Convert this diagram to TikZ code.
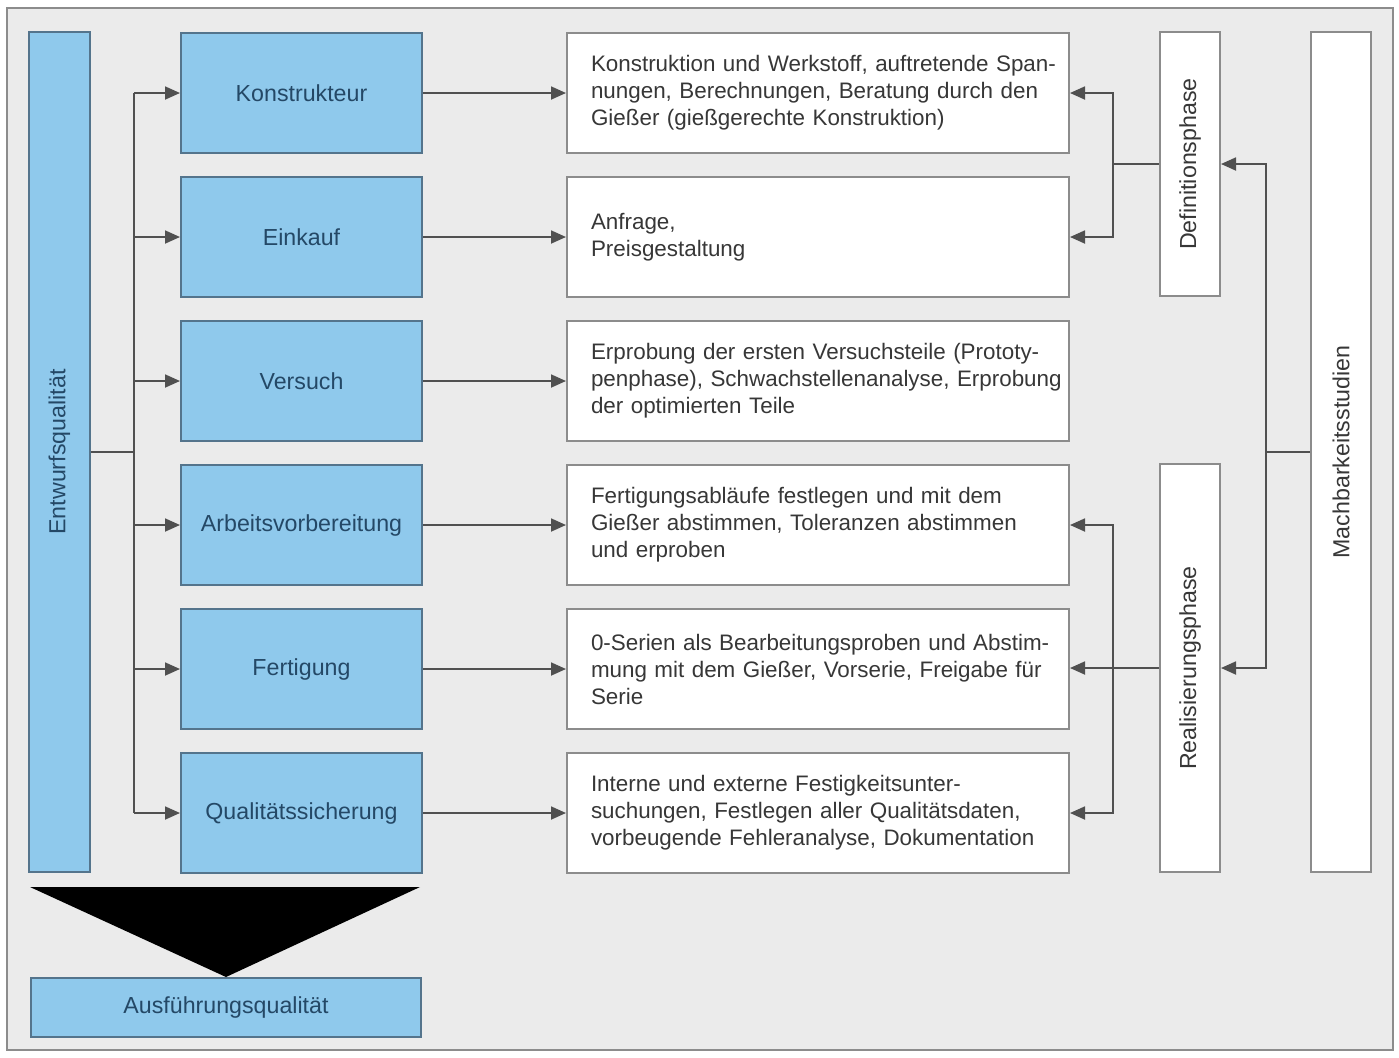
\documentclass[tikz,border=0pt]{standalone}
\usepackage{fontspec}
\setmainfont{Liberation Sans}
\usetikzlibrary{arrows.meta}
\definecolor{hellblau}{RGB}{143,201,236}
\definecolor{blaurand}{RGB}{84,116,140}
\definecolor{blautext}{RGB}{36,72,102}
\definecolor{grund}{RGB}{235,235,235}
\definecolor{linie}{RGB}{80,80,80}
\definecolor{rahmen}{RGB}{140,140,140}
\definecolor{schrift}{RGB}{55,55,55}
\newcommand{\zeile}[1]{\mbox{#1}}
\tikzset{
  every node/.style={font=\fontsize{11.6}{13.5}\selectfont},
  stelle/.style={draw=blaurand, line width=1pt, fill=hellblau, text=blautext,
    minimum width=120.5pt, minimum height=60pt, inner sep=0pt, anchor=north west},
  aufgabe/.style={draw=rahmen, line width=1pt, fill=white, text=schrift,
    font=\fontsize{11.2}{13.5}\selectfont,
    minimum width=251pt, minimum height=60pt, text width=227pt, inner xsep=12pt,
    inner ysep=0pt, align=left, anchor=north west},
  phase/.style={draw=rahmen, line width=1pt, fill=white, text=schrift,
    minimum height=30pt, inner sep=0pt, rotate=90},
  strich/.style={draw=linie, line width=0.9pt},
  pfeil/.style={strich, -{Triangle[length=7.5pt,width=6.5pt]}}
}
\begin{document}
\begin{tikzpicture}[x=0.5pt,y=-0.5pt]
\useasboundingbox (0,0) rectangle (1399,1057);
\fill[white] (0,0) rectangle (1399,1057);
\draw[fill=grund, draw=rahmen, line width=1pt] (7,8) rectangle (1393,1050);

% linke Spalte
\node[stelle, anchor=center, rotate=90, minimum width=420pt, minimum height=30.5pt]
  (ent) at (59.5,452) {Entwurfsqualität};
\foreach \txt [count=\i] in {Konstrukteur,Einkauf,Versuch,Arbeitsvorbereitung,Fertigung,Qualitätssicherung}
  \node[stelle] (s\i) at (180,{32+144*(\i-1)}) {\txt};

% Aufgaben
\node[aufgabe] (a1) at (566,32) {\zeile{Konstruktion und Werkstoff, auftretende Span-}\\
  \zeile{nungen, Berechnungen, Beratung durch den}\\\zeile{Gießer (gießgerechte Konstruktion)}};
\node[aufgabe] (a2) at (566,176) {Anfrage,\\Preisgestaltung};
\node[aufgabe] (a3) at (566,320) {\zeile{Erprobung der ersten Versuchsteile (Prototy-}\\
  \zeile{penphase), Schwachstellenanalyse, Erprobung}\\\zeile{der optimierten Teile}};
\node[aufgabe] (a4) at (566,464) {\zeile{Fertigungsabläufe festlegen und mit dem}\\
  \zeile{Gießer abstimmen, Toleranzen abstimmen}\\\zeile{und erproben}};
\node[aufgabe] (a5) at (566,608) {\zeile{0-Serien als Bearbeitungsproben und Abstim-}\\
  \zeile{mung mit dem Gießer, Vorserie, Freigabe für}\\\zeile{Serie}};
\node[aufgabe] (a6) at (566,752) {\zeile{Interne und externe Festigkeitsunter-}\\
  \zeile{suchungen, Festlegen aller Qualitätsdaten,}\\\zeile{vorbeugende Fehleranalyse, Dokumentation}};

% Phasen
\node[phase, minimum width=132pt] (def) at (1190,164) {Definitionsphase};
\node[phase, minimum width=204pt] (real) at (1190,668) {Realisierungsphase};
\node[phase, minimum width=420pt] (mach) at (1341,452) {Machbarkeitsstudien};

% Ausfuehrung
\node[stelle, minimum width=195pt, minimum height=29.5pt] (ausf) at (30,977) {Ausführungsqualität};
\fill[black] (30,887) -- (420,887) -- (ausf.north) -- cycle;

% Verbindungen links
\coordinate (jl) at (134,452);
\draw[strich] (ent.south) -- (jl);
\draw[strich] (jl |- s1.west) -- (jl |- s6.west);
\foreach \i in {1,...,6} {
  \draw[pfeil] (jl |- s\i.west) -- (s\i.west);
  \draw[pfeil] (s\i.east) -- (s\i.east -| a\i.west);
}

% Verbindungen rechts
\coordinate (jd) at (1113,164);
\draw[strich] (def.north) -- (jd);
\draw[pfeil] (jd) |- (a1.east);
\draw[pfeil] (jd) |- (a2.east);
\coordinate (jr) at (1113,668);
\draw[pfeil] (real.north) -- (real.north -| a5.east);
\draw[pfeil] (jr) |- (a4.east);
\draw[pfeil] (jr) |- (a6.east);
\draw[strich] (mach.north) -- ++(-44,0) coordinate (jm);
\draw[pfeil] (jm) |- (def.south);
\draw[pfeil] (jm) |- (real.south);
\end{tikzpicture}
\end{document}
